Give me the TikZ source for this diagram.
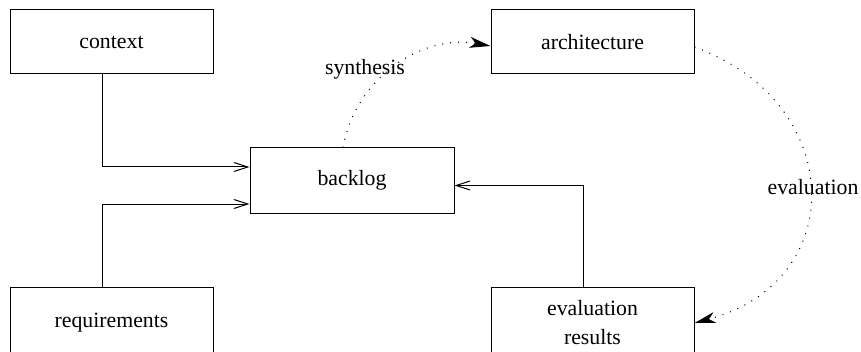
\documentclass[tikz,border=0pt]{standalone}
\usepackage{fontspec}
\setmainfont{Liberation Serif}
\usetikzlibrary{arrows.meta}
\begin{document}
\begin{tikzpicture}[x=1pt, y=1pt, line width=1pt,
  font=\rmfamily\fontsize{21.8}{29}\selectfont]
  % Define box and arrow styles
  \tikzstyle{mybox} = [draw, rectangle, minimum width=203pt,
  minimum height=64pt, inner sep=0pt]
  \tikzstyle{mylowbox} = [mybox, minimum height=72pt, align=center]
  \tikzstyle{myarrow} = [-{Straight Barb[length=14pt,width=9pt]}]
  \tikzstyle{mydotarrow} = [dash pattern=on 1pt off 7pt,
  -{Stealth[length=21pt,width=11pt,inset=6pt]}]

  \clip (0,0) rectangle (861,351);

  \node [mybox] (context) at (111.5,309) {context};
  \node [mybox] (architecture) at (592.5,309) {architecture};
  \node [mybox, minimum width=204pt, minimum height=65pt]
    (backlog) at (352,170.5) {backlog};
  \node [mylowbox] (requirements) at (111.5,28) {requirements};
  \node [mylowbox] (evalresults) at (592.5,28) {evaluation\\results};

  \draw [myarrow] ([xshift=-9.5pt]context.south) |- ([yshift=13.5pt]backlog.west);
  \draw [myarrow] ([xshift=-9.5pt]requirements.north) |- ([yshift=-23.5pt]backlog.west);
  \draw [myarrow] ([xshift=-9pt]evalresults.north) |- ([yshift=-5pt]backlog.east);

  \draw [mydotarrow] ([xshift=-9pt]backlog.north)
    to[out=80, in=170] ([yshift=-4pt]architecture.west);
  \draw [mydotarrow] ([yshift=-5pt]architecture.east)
    to[out=-20, in=15, looseness=1.5] (evalresults.east);

  \node (synthesis) at (365,282) {synthesis};
  \node (evaluation) at (813,164) {evaluation};
\end{tikzpicture}
\end{document}
